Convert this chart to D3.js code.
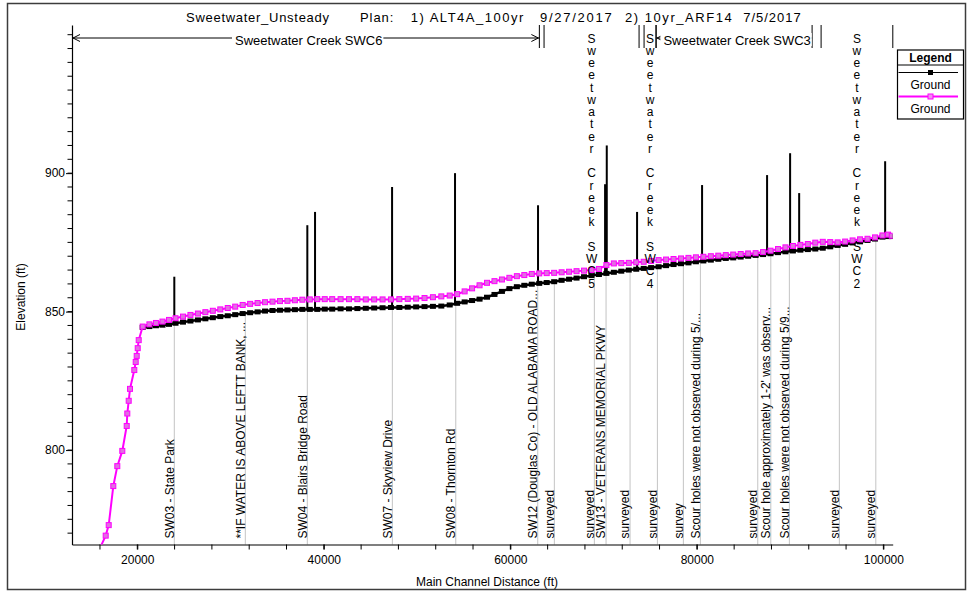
<!DOCTYPE html>
<html>
<head>
<meta charset="utf-8">
<script src="https://cdn.jsdelivr.net/npm/d3@7"></script>
<style>
  html, body { margin: 0; padding: 0; background: #fff; }
  svg { display: block; font-family: "Liberation Sans", Arial, Helvetica, sans-serif; }
</style>
</head>
<body>
<svg id="chart" width="971" height="592"></svg>
<script>
// ---- Chart text ----
const titleParts = ["Sweetwater_Unsteady", "Plan:", "1) ALT4A_100yr", "9/27/2017", "2) 10yr_ARF14", "7/5/2017"];
const xAxisTitle = "Main Channel Distance (ft)";
const yAxisTitle = "Elevation (ft)";
const legendTitle = "Legend";
const seriesNames = ["Ground", "Ground"];
const xTickLabels = [20000, 40000, 60000, 80000, 100000];
const yTickLabels = [800, 850, 900];

// ---- Ground profiles (main channel station ft, elevation ft) ----
const stations = [20580, 21300, 22000, 22700, 23400, 24100, 24900, 25700, 26500, 27300,
  28100, 28900, 29700, 30500, 31300, 32100, 32900, 33700, 34500, 35300,
  36100, 36900, 37700, 38500, 39300, 40100, 40900, 41800, 42700, 43600,
  44500, 45400, 46300, 47200, 48100, 49000, 49900, 50800, 51700, 52600,
  53500, 54300, 55100, 55900, 56700, 57500, 58300, 59100, 59900, 60700,
  61500, 62300, 63100, 63900, 64700, 65500, 66300, 67100, 67900, 68700,
  69500, 70300, 71100, 71900, 72700, 73500, 74300, 75100, 75900, 76700,
  77500, 78300, 79100, 79900, 80700, 81500, 82300, 83100, 83900, 84700,
  85500, 86300, 87100, 87900, 88700, 89500, 90300, 91100, 91900, 92700,
  93500, 94300, 95100, 95900, 96700, 97500, 98300, 99100, 99900, 100500, 100900];

// Plan 1) ALT4A_100yr
const groundPlan1 = [844.3, 844.6, 844.9, 845.1, 845.4, 845.8, 846.2, 846.6, 847.0, 847.4,
  847.8, 848.2, 848.5, 848.9, 849.3, 849.6, 849.9, 850.2, 850.4, 850.5,
  850.6, 850.7, 850.8, 850.8, 850.8, 850.9, 850.9, 851.0, 851.0, 851.1,
  851.2, 851.3, 851.4, 851.5, 851.5, 851.6, 851.7, 851.8, 851.9, 852.0,
  852.4, 853.0, 853.5, 854.0, 854.5, 855.2, 856.2, 857.3, 858.3, 859.0,
  859.5, 859.9, 860.2, 860.5, 860.8, 861.3, 861.7, 862.1, 862.6, 863.0,
  863.4, 863.8, 864.2, 864.6, 865.0, 865.3, 865.6, 865.9, 866.2, 866.6,
  867.0, 867.3, 867.6, 868.0, 868.3, 868.6, 868.9, 869.2, 869.4, 869.7,
  870.0, 870.3, 870.6, 870.9, 871.3, 871.6, 871.9, 872.2, 872.4, 872.6,
  872.9, 873.4, 873.9, 874.3, 874.8, 875.2, 875.7, 876.2, 876.9, 877.1, 877.1];

// Plan 2) 10yr_ARF14
const groundPlan2 = [844.6, 845.4, 845.9, 846.4, 847.0, 847.6, 848.2, 848.8, 849.3, 849.8,
  850.3, 850.8, 851.3, 851.8, 852.4, 852.8, 853.1, 853.4, 853.6, 853.8,
  853.9, 854.1, 854.3, 854.4, 854.5, 854.5, 854.5, 854.5, 854.5, 854.5,
  854.4, 854.4, 854.4, 854.4, 854.5, 854.6, 854.7, 854.9, 855.2, 855.5,
  855.8, 856.3, 857.3, 858.4, 859.5, 860.4, 861.0, 861.6, 862.2, 862.8,
  863.2, 863.6, 863.8, 863.9, 864.0, 864.2, 864.4, 864.6, 864.8, 865.0,
  865.4, 866.8, 867.4, 867.5, 867.6, 867.8, 868.0, 868.3, 868.6, 868.8,
  869.0, 869.2, 869.4, 869.6, 869.8, 870.0, 870.2, 870.4, 870.6, 870.8,
  871.0, 871.1, 871.5, 872.0, 872.6, 873.2, 873.7, 874.1, 874.4, 874.9,
  875.2, 875.1, 875.0, 875.3, 875.7, 876.1, 876.3, 876.8, 877.5, 877.8, 877.4];

// Plan 2 downstream drop below the common reach
const lowerStationsPlan2 = [16000, 16614, 16936, 17429, 17858, 18394, 18866, 18930, 19080, 19220,
  19681, 19831, 19938, 20046, 20153];
const lowerGroundPlan2 = [764.6, 769.1, 772.9, 787.0, 794.2, 799.7, 808.7, 813.2, 817.8, 822.1,
  828.9, 831.8, 834.0, 836.8, 839.7];

// ---- Bridges: station and top of deck (ft) ----
const bridgeStations = [23970, 38233, 39060, 47320, 54070, 62970, 70160, 70340, 73590, 80560, 87530, 90000, 90970, 100190];
const bridgeTops = [862.6, 881.2, 886.0, 895.0, 900.0, 888.4, 896.0, 910.0, 886.0, 895.7, 899.3, 907.2, 892.8, 904.3];

// ---- Labelled cross sections ----
const xsStations = [23970, 31585, 38233, 47350, 54150, 62940, 64720, 69010, 70265, 72840,
  75770, 78555, 80380, 86530, 87930, 89920, 95280, 99190];
const xsLabels = ["SW03 - State Park", "**IF WATER IS ABOVE LEFTT BANK, ...", "SW04 - Blairs Bridge Road",
  "SW07 - Skyview Drive", "SW08 - Thornton Rd", "SW12 (Douglas Co) - OLD ALABAMA ROAD...", "surveyed",
  "surveyed", "SW13 - VETERANS MEMORIAL PKWY", "surveyed", "surveyed", "survey",
  "Scour holes were not observed during 5/...", "surveyed", "Scour hole approximately 1-2' was observ...",
  "Scour holes were not observed during 5/9...", "surveyed", "surveyed"];

// ---- Reaches ----
const reachNames = ["Sweetwater Creek SWC6", "Sweetwater Creek SWC5", "Sweetwater Creek SWC4", "Sweetwater Creek SWC3", "Sweetwater Creek SWC2"];
const reachStart = [13000, 63617, 74341, 75628, 93323];
const reachEnd = [63113, 73805, 75628, 92358, 101012];

// ---- Layout ----
const plotL = 72, plotR = 892.7, plotT = 25, plotB = 544.5;
const x = d3.scaleLinear().domain([13000, 101000]).range([plotL, plotR]);
const y = d3.scaleLinear().domain([765.9, 953.5]).range([plotB, plotT]);
const svg = d3.select("#chart");
const MAGENTA = "#ff00ff";

// outer frame
svg.append("rect").attr("x", 7.5).attr("y", 3.5).attr("width", 958).attr("height", 586)
  .attr("fill", "none").attr("stroke", "#3c3c3c").attr("stroke-width", 1.5);

// title
const titleX = [186, 360, 410.7, 540, 625, 743.3];
const titleW = [143, 33.3, 112.6, 71.7, 106.7, 57.4];
svg.append("g").selectAll("text").data(titleParts).join("text")
  .attr("x", (d, i) => titleX[i]).attr("y", 22)
  .attr("textLength", (d, i) => titleW[i]).attr("lengthAdjust", "spacing")
  .attr("font-size", 13).attr("fill", "#000").text(d => d);

// clip for data
svg.append("defs").append("clipPath").attr("id", "plotClip")
  .append("rect").attr("x", plotL).attr("y", plotT).attr("width", plotR - plotL).attr("height", plotB - plotT);

// ground lookup on plan 1 profile
const bis = d3.bisector(d => d).left;
function groundAt(s) {
  let i = bis(stations, s);
  if (i <= 0) return groundPlan1[0];
  if (i >= stations.length) return groundPlan1[stations.length - 1];
  const t = (s - stations[i - 1]) / (stations[i] - stations[i - 1]);
  return groundPlan1[i - 1] + t * (groundPlan1[i] - groundPlan1[i - 1]);
}

// cross-section guide lines
const xsG = svg.append("g");
xsG.selectAll("line").data(xsStations).join("line")
  .attr("x1", d => x(d)).attr("x2", d => x(d))
  .attr("y1", plotB).attr("y2", d => y(groundAt(d)))
  .attr("stroke", "#c4c4c4").attr("stroke-width", 1);
xsG.selectAll("text").data(xsLabels).join("text")
  .attr("transform", (d, i) => `translate(${x(xsStations[i]) - 0.8},538.5) rotate(-90)`)
  .attr("font-size", 12).attr("fill", "#000").text(d => d);

// axes
const xAxis = d3.axisBottom(x).tickValues(xTickLabels).tickFormat(d3.format("d"))
  .tickSize(5).tickPadding(5.5).tickSizeOuter(0);
const gx = svg.append("g").attr("transform", `translate(0,${plotB})`).call(xAxis);
gx.selectAll("text").attr("font-size", 12).attr("font-family", null);
gx.append("g").selectAll("line").data(d3.range(16000, 100001, 4000)).join("line")
  .attr("x1", d => x(d)).attr("x2", d => x(d)).attr("y1", 0).attr("y2", 5).attr("stroke", "#000");

const yAxis = d3.axisLeft(y).tickValues(yTickLabels).tickFormat(d3.format("d"))
  .tickSize(6).tickPadding(1).tickSizeOuter(0);
const gy = svg.append("g").attr("transform", `translate(${plotL},0)`).call(yAxis);
gy.selectAll("text").attr("font-size", 12).attr("font-family", null);
gy.append("g").selectAll("line").data(d3.range(770, 951, 5)).join("line")
  .attr("x1", -4.5).attr("x2", 0).attr("y1", d => y(d)).attr("y2", d => y(d)).attr("stroke", "#000");
svg.selectAll(".domain").attr("stroke", "#000").attr("stroke-width", 1.2);

svg.append("text").attr("x", 487).attr("y", 586).attr("text-anchor", "middle")
  .attr("font-size", 12).text(xAxisTitle);
svg.append("text").attr("transform", "translate(24.5,297) rotate(-90)").attr("text-anchor", "middle")
  .attr("font-size", 12).text(yAxisTitle);

// data layer
const dataG = svg.append("g").attr("clip-path", "url(#plotClip)");

// bridges on plan 1, drawn as solid deck lines rising from the ground
dataG.append("g").selectAll("rect").data(bridgeStations).join("rect")
  .attr("x", d => x(d) - 1).attr("width", 2)
  .attr("y", (d, i) => y(bridgeTops[i])).attr("height", (d, i) => y(groundAt(d)) - y(bridgeTops[i]))
  .attr("fill", "#000");

const line = d3.line().x(d => x(d[0])).y(d => y(d[1]));
const plan1Pts = stations.map((s, i) => [s, groundPlan1[i]]);
const plan2Pts = lowerStationsPlan2.map((s, i) => [s, lowerGroundPlan2[i]])
  .concat(stations.map((s, i) => [s, groundPlan2[i]]));

dataG.append("path").datum(plan1Pts).attr("d", line)
  .attr("fill", "none").attr("stroke", "#000").attr("stroke-width", 2.5);
dataG.append("g").selectAll("rect").data(plan1Pts).join("rect")
  .attr("x", d => x(d[0]) - 3).attr("y", d => y(d[1]) - 2.5).attr("width", 6).attr("height", 5)
  .attr("fill", "#000");

dataG.append("path").datum(plan2Pts).attr("d", line)
  .attr("fill", "none").attr("stroke", MAGENTA).attr("stroke-width", 2);
dataG.append("g").selectAll("rect").data(plan2Pts).join("rect")
  .attr("x", d => x(d[0]) - 2.5).attr("y", d => y(d[1]) - 2.5).attr("width", 5).attr("height", 5)
  .attr("fill", "#e070e0").attr("stroke", MAGENTA).attr("stroke-width", 1);

// reach labels along the top
const reachG = svg.append("g");
const barTop = 25, barBot = 48, arrowY = 38;
reachNames.forEach((name, i) => {
  const xs = x(reachStart[i]), xe = x(reachEnd[i]);
  const probe = reachG.append("text").attr("font-size", 13).text(name);
  const w = probe.node().getComputedTextLength();
  probe.remove();
  if (reachStart[i] > x.domain()[0]) {
    reachG.append("line").attr("x1", xs).attr("x2", xs).attr("y1", barTop).attr("y2", barBot).attr("stroke", "#000");
  }
  reachG.append("line").attr("x1", xe).attr("x2", xe).attr("y1", barTop).attr("y2", barBot).attr("stroke", "#000");
  if (w + 8 < xe - xs) {
    reachG.append("line").attr("x1", xs).attr("x2", xe).attr("y1", arrowY).attr("y2", arrowY).attr("stroke", "#000");
    reachG.append("path").attr("d", `M${xs + 8},${arrowY - 3.5}L${xs + 1},${arrowY}L${xs + 8},${arrowY + 3.5}`)
      .attr("fill", "none").attr("stroke", "#000");
    reachG.append("path").attr("d", `M${xe - 8},${arrowY - 3.5}L${xe - 1},${arrowY}L${xe - 8},${arrowY + 3.5}`)
      .attr("fill", "none").attr("stroke", "#000");
    const cx = (xs + xe) / 2 + 3;
    reachG.append("rect").attr("x", cx - w / 2 - 3).attr("y", 33).attr("width", w + 4).attr("height", 13).attr("fill", "#fff");
    reachG.append("text").attr("x", cx).attr("y", 44.5).attr("text-anchor", "middle")
      .attr("font-size", 13).text(name);
  } else {
    const cx = (xs + xe) / 2;
    reachG.append("g").selectAll("text").data(name.split("")).join("text")
      .attr("x", cx).attr("y", (d, k) => 42.6 + k * 12.25)
      .attr("text-anchor", "middle").attr("font-size", 12).text(d => d);
  }
});

// legend
const lg = svg.append("g");
const lx0 = 897.5, lx1 = 963.5, lcx = 930.5;
lg.append("rect").attr("x", lx0).attr("y", 50).attr("width", lx1 - lx0).attr("height", 69)
  .attr("fill", "#fff").attr("stroke", "#000").attr("stroke-width", 1.2);
lg.append("text").attr("x", lcx).attr("y", 61.5).attr("text-anchor", "middle")
  .attr("font-size", 12).attr("font-weight", "bold").text(legendTitle);
lg.append("line").attr("x1", lx0).attr("x2", lx1).attr("y1", 65).attr("y2", 65).attr("stroke", "#000");
const legendRows = [
  { y: 72.5, color: "#000", fill: "#000", stroke: "none" },
  { y: 96.5, color: MAGENTA, fill: "#f090f0", stroke: MAGENTA }
];
legendRows.forEach((r, i) => {
  lg.append("line").attr("x1", lx0 + 1).attr("x2", 958).attr("y1", r.y).attr("y2", r.y)
    .attr("stroke", r.color).attr("stroke-width", i === 0 ? 1 : 2);
  lg.append("rect").attr("x", lcx - 2.5).attr("y", r.y - 2.5).attr("width", 5).attr("height", 5)
    .attr("fill", r.fill).attr("stroke", r.stroke);
  lg.append("text").attr("x", lcx).attr("y", r.y + 16).attr("text-anchor", "middle")
    .attr("font-size", 12).text(seriesNames[i]);
});
</script>
</body>
</html>
